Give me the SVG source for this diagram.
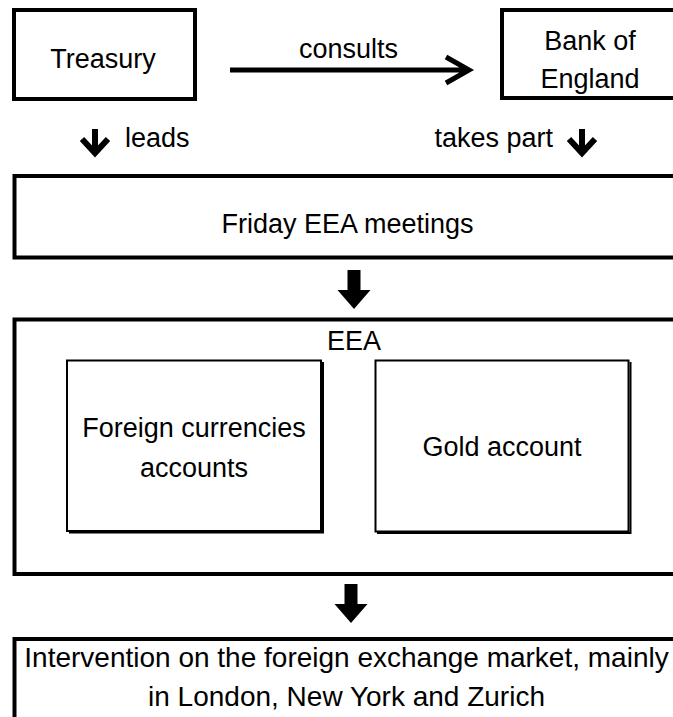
<svg xmlns="http://www.w3.org/2000/svg" xmlns:xlink="http://www.w3.org/1999/xlink" width="673" height="717" viewBox="0 0 673 717">
  <style>
    .box { fill: #ffffff; stroke: #000000; stroke-width: 4; }
    .inner { fill: #ffffff; stroke: #000000; stroke-width: 2; }
    .shade { fill: none; stroke: #000000; stroke-width: 2; }
    .t { font-family: "Liberation Sans", Arial, sans-serif; font-size: 27px; fill: #000000; }
    .big { font-size: 28px; }
    .c { text-anchor: middle; }
    .line { fill: none; stroke: #000000; stroke-width: 5; stroke-linejoin: miter; }
    .thick { fill: none; stroke: #000000; stroke-width: 6; stroke-linejoin: miter; }
    .block { fill: #000000; stroke: none; }
  </style>
  <defs>
    <path id="blockArrow" d="M -6.5 0 H 6.5 V 20 H 16.5 L 0 39 L -16.5 20 H -6.5 Z"/>
    <path id="smallArrow" d="M 0 129 V 151 M -13 139 L 0 153 L 13 139"/>
  </defs>
  <rect width="673" height="717" fill="#ffffff"/>

  <g id="treasury">
    <rect class="box" x="14" y="10" width="181" height="89"/>
    <text class="t c" x="103" y="68">Treasury</text>
  </g>

  <g id="bank-of-england">
    <rect class="box" x="502" y="10" width="220" height="88"/>
    <text class="t c" x="590" y="50">Bank of</text>
    <text class="t c" x="590" y="88">England</text>
  </g>

  <g id="friday-meetings">
    <rect class="box" x="14.5" y="176" width="720" height="81.5"/>
    <text class="t c" x="347.5" y="233">Friday EEA meetings</text>
  </g>

  <g id="eea">
    <rect class="box" x="14.5" y="319.5" width="720" height="254.5"/>
    <text class="t c" x="354" y="350">EEA</text>
  </g>

  <g id="foreign-currencies-accounts">
    <rect class="inner" x="67" y="360.5" width="254" height="170.5"/>
    <path class="shade" d="M 323 362 V 532.5 H 69"/>
    <text class="t c" x="194" y="437">Foreign currencies</text>
    <text class="t c" x="194" y="477">accounts</text>
  </g>

  <g id="gold-account">
    <rect class="inner" x="375.5" y="360.5" width="253" height="171"/>
    <path class="shade" d="M 630.5 362 V 533 H 377"/>
    <text class="t c" x="502" y="456">Gold account</text>
  </g>

  <g id="intervention">
    <rect class="box" x="14.5" y="639" width="720" height="120"/>
    <text class="t big c" x="346.5" y="667">Intervention on the foreign exchange market, mainly</text>
    <text class="t big c" x="346.5" y="706">in London, New York and Zurich</text>
  </g>

  <g id="connectors">
    <g id="consults">
      <path class="line" d="M 230 70 H 468 M 446 57 L 469 70 L 446 83"/>
      <text class="t c" x="348.5" y="58">consults</text>
    </g>
    <g id="leads">
      <use xlink:href="#smallArrow" class="thick" transform="translate(95,0)"/>
      <text class="t" x="125" y="147">leads</text>
    </g>
    <g id="takes-part">
      <use xlink:href="#smallArrow" class="thick" transform="translate(582,0)"/>
      <text class="t" x="553" y="147" text-anchor="end">takes part</text>
    </g>
    <use xlink:href="#blockArrow" class="block" transform="translate(354,270)"/>
    <use xlink:href="#blockArrow" class="block" transform="translate(351,584)"/>
  </g>
</svg>
